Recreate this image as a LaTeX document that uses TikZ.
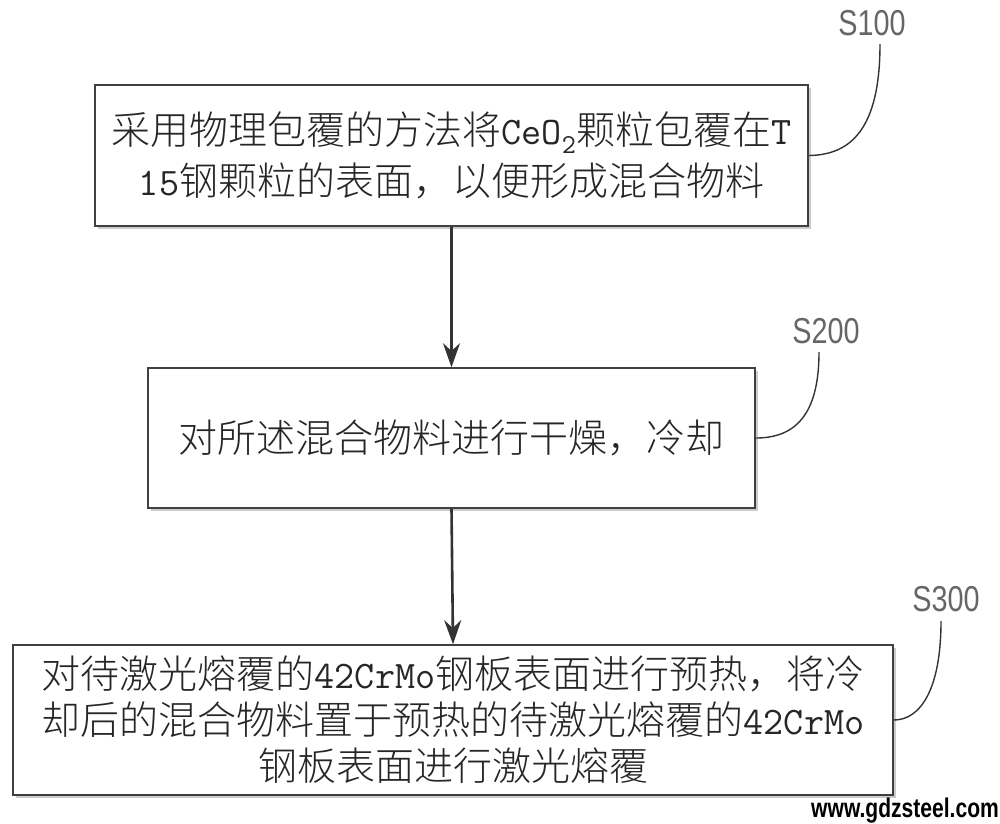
\documentclass[tikz,border=0pt]{standalone}
\usepackage{fontspec}
\setmainfont{Noto Sans CJK SC}[UprightFont=* Light]
\newfontfamily\labfont{Liberation Sans}
\newfontfamily\wmfont{Liberation Sans}
\usetikzlibrary{arrows.meta,shadows}
\newcommand{\lm}[1]{{\ttfamily #1}}
\begin{document}
\begin{tikzpicture}[x=1pt,y=-1pt,
  stepbox/.style={draw=black!75, line width=1.6pt, fill=white, inner sep=0pt,
    align=center, text=black!85, font=\fontsize{39}{51}\selectfont,
    drop shadow={shadow xshift=2.5pt, shadow yshift=-2.5pt, fill=black!20, opacity=1}},
  steplabel/.style={text=black!60, font=\fontsize{36}{36}\labfont, xscale=0.8, inner sep=0pt},
  leader/.style={draw=black!80, line width=1.4pt},
  flow/.style={draw=black!80, line width=2.6pt, -{Stealth[length=24pt,width=17pt]}}]
\useasboundingbox (0,0) rectangle (1000,823);
\node[stepbox, minimum width=713pt, minimum height=141pt] (b1) at (451.5,155.5)
  {采用物理包覆的方法将\lm{CeO}\textsubscript{\lm{2}}颗粒包覆在\lm{T}\\ \lm{15}钢颗粒的表面，以便形成混合物料};
\node[stepbox, minimum width=607pt, minimum height=140pt] (b2) at (451.5,438)
  {对所述混合物料进行干燥，冷却};
\node[stepbox, minimum width=880pt, minimum height=150pt, font=\fontsize{39}{46}\selectfont] (b3) at (453,720)
  {对待激光熔覆的\lm{42CrMo}钢板表面进行预热，将冷\\ 却后的混合物料置于预热的待激光熔覆的\lm{42CrMo}\\ 钢板表面进行激光熔覆};
\draw[flow] (b1.south) -- (b2.north);
\draw[flow] (b2.south) -- (b3.north);
\node[steplabel] (l1) at (872,23) {S100};
\node[steplabel] (l2) at (826,331) {S200};
\node[steplabel] (l3) at (946,599) {S300};
\coordinate (l1a) at (880,44);
\coordinate (l2a) at (819,352);
\coordinate (l3a) at (941,621);
\draw[leader] (l1a) .. controls (880,130) and (850,155) .. (b1.east);
\draw[leader] (l2a) .. controls (819,415) and (795,438) .. (b2.east);
\draw[leader] (l3a) .. controls (941,690) and (920,720) .. (b3.east);
\node[anchor=east, inner sep=0pt, font=\fontsize{27}{27}\wmfont\bfseries, xscale=0.78] (wm) at (999,811) {www.gdzsteel.com};
\end{tikzpicture}
\end{document}
